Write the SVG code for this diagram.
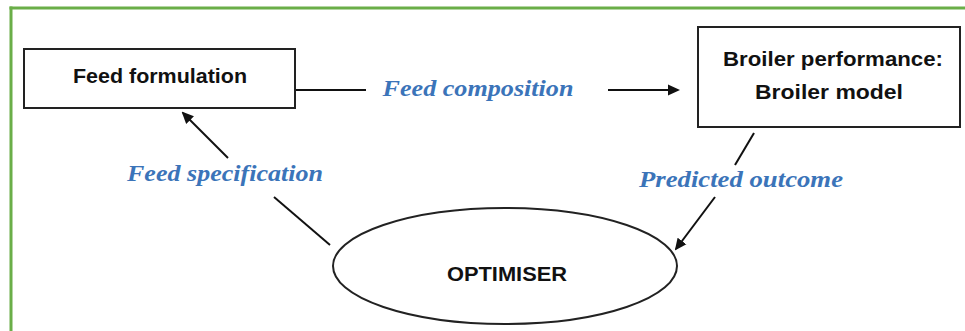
<svg xmlns="http://www.w3.org/2000/svg" width="965" height="331" viewBox="0 0 965 331">
<style>
.box{fill:#fff;stroke:#222;stroke-width:2}
.node-t{font-family:"Liberation Sans",Arial,sans-serif;font-weight:bold;font-size:21px;fill:#111;text-anchor:middle}
.lbl{font-family:"Liberation Serif","DejaVu Serif",serif;font-weight:bold;font-style:italic;font-size:23px;fill:#3b74b9;text-anchor:middle}
.ln{stroke:#111;stroke-width:2;fill:none}
</style>
<defs>
<marker id="ah" markerWidth="12" markerHeight="12" refX="10" refY="6" orient="auto" markerUnits="userSpaceOnUse" viewBox="0 0 12 12">
<path d="M0,0.5 L12,6 L0,11.5 Z" fill="#111"/>
</marker>
</defs>
<rect width="965" height="331" fill="#fff"/>
<g id="frame">
<line x1="9.5" y1="8" x2="965" y2="8" stroke="#6aae48" stroke-width="3"/>
<line x1="11" y1="6.5" x2="11" y2="331" stroke="#6aae48" stroke-width="3"/>
</g>
<g id="connectors">
<line class="ln" x1="295" y1="90" x2="366" y2="90"/>
<line class="ln" x1="608" y1="90" x2="678" y2="90" marker-end="url(#ah)"/>
<line class="ln" x1="754" y1="133" x2="735" y2="165"/>
<line class="ln" x1="715" y1="197" x2="676" y2="249" marker-end="url(#ah)"/>
<line class="ln" x1="228" y1="158" x2="183" y2="113" marker-end="url(#ah)"/>
<line class="ln" x1="274" y1="197" x2="330" y2="245"/>
</g>
<g id="labels">
<text class="lbl" x="478" y="96" textLength="191" lengthAdjust="spacingAndGlyphs">Feed composition</text>
<text class="lbl" x="225" y="181" textLength="196" lengthAdjust="spacingAndGlyphs">Feed specification</text>
<text class="lbl" x="741" y="187" textLength="204" lengthAdjust="spacingAndGlyphs">Predicted outcome</text>
</g>
<g id="feed-formulation">
<rect class="box" x="24" y="49" width="271" height="59"/>
<text class="node-t" x="160" y="83" textLength="174" lengthAdjust="spacingAndGlyphs">Feed formulation</text>
</g>
<g id="broiler-model">
<rect class="box" x="698" y="27" width="262" height="100"/>
<text class="node-t" x="833" y="66" textLength="220" lengthAdjust="spacingAndGlyphs">Broiler performance:</text>
<text class="node-t" x="829" y="99" textLength="148" lengthAdjust="spacingAndGlyphs">Broiler model</text>
</g>
<g id="optimiser">
<ellipse class="box" cx="505" cy="266" rx="172" ry="58"/>
<text class="node-t" x="507" y="281" textLength="120" lengthAdjust="spacingAndGlyphs">OPTIMISER</text>
</g>
</svg>
